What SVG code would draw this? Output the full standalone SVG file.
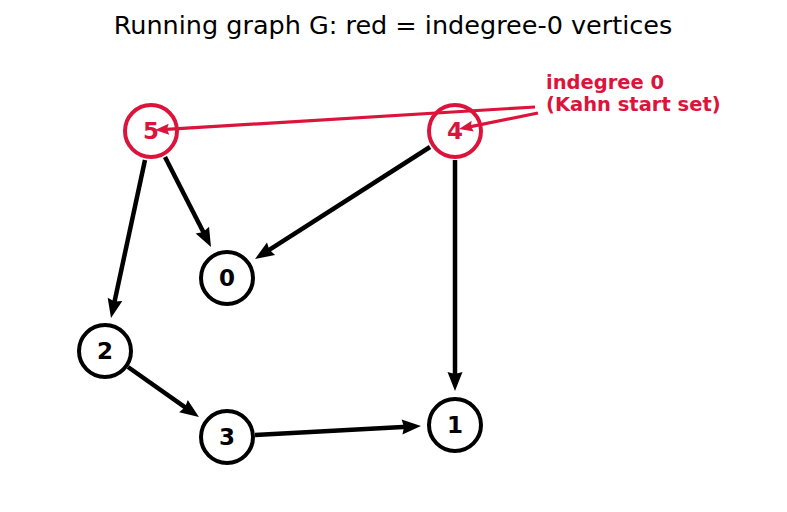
<svg xmlns="http://www.w3.org/2000/svg" width="787" height="512" viewBox="0 0 787 512">
<style>
.t{font-family:"DejaVu Sans",sans-serif;}
.node circle{fill:#fff;stroke:#000;stroke-width:4;}
.node text{font-family:"DejaVu Sans",sans-serif;font-weight:bold;font-size:23px;text-anchor:middle;fill:#000;}
.node.red circle{stroke:#DC143C;fill:none;}
.node.red text{fill:#DC143C;}
.e{stroke:#000;stroke-width:4.5;fill:none;marker-end:url(#ah);}
.r{stroke:#DC143C;stroke-width:3.2;fill:none;marker-end:url(#rh);}
</style>
<defs>
<marker id="ah" markerUnits="userSpaceOnUse" viewBox="0 0 19 15" markerWidth="19" markerHeight="15" refX="10" refY="7.5" orient="auto" overflow="visible"><path d="M0,0 L19,7.5 L0,15 L2,7.5 z" fill="#000"/></marker>
<marker id="rh" markerUnits="userSpaceOnUse" viewBox="0 0 14 11" markerWidth="14" markerHeight="11" refX="7" refY="5.5" orient="auto" overflow="visible"><path d="M0,0 L14,5.5 L0,11 L2,5.5 z" fill="#DC143C"/></marker>
</defs>
<rect width="787" height="512" fill="#fff"/>
<text class="t" x="393" y="34" font-size="25.5" text-anchor="middle">Running graph G: red = indegree-0 vertices</text>
<g id="connectors">
<line class="e" x1="165" y1="157" x2="206.9" y2="239"/>
<line class="e" x1="145" y1="160" x2="112.9" y2="309.2"/>
<line class="e" x1="430" y1="147" x2="262.6" y2="254.1"/>
<line class="e" x1="455" y1="160" x2="455" y2="382"/>
<line class="e" x1="128" y1="367" x2="191.6" y2="411.8"/>
<line class="e" x1="255" y1="435" x2="412" y2="426.5"/>
</g>
<g id="node5" class="node red"><circle cx="151" cy="131" r="26"/><text x="151" y="139">5</text></g>
<g id="node4" class="node red"><circle cx="455" cy="131" r="26"/><text x="455" y="139">4</text></g>
<g id="node0" class="node"><circle cx="227" cy="278" r="26"/><text x="227" y="286">0</text></g>
<g id="node2" class="node"><circle cx="105" cy="351" r="26"/><text x="105" y="359">2</text></g>
<g id="node3" class="node"><circle cx="227" cy="437" r="26"/><text x="227" y="445">3</text></g>
<g id="node1" class="node"><circle cx="455" cy="425" r="26"/><text x="455" y="433">1</text></g>
<g id="annotation">
<line class="r" x1="535" y1="107" x2="162" y2="129.6"/>
<line class="r" x1="538" y1="113" x2="465.9" y2="127.6"/>
<text class="t" x="546" y="89" font-size="19.5" font-weight="bold" fill="#DC143C">indegree 0</text>
<text class="t" x="546" y="111" font-size="19.5" font-weight="bold" fill="#DC143C">(Kahn start set)</text>
</g>
</svg>
